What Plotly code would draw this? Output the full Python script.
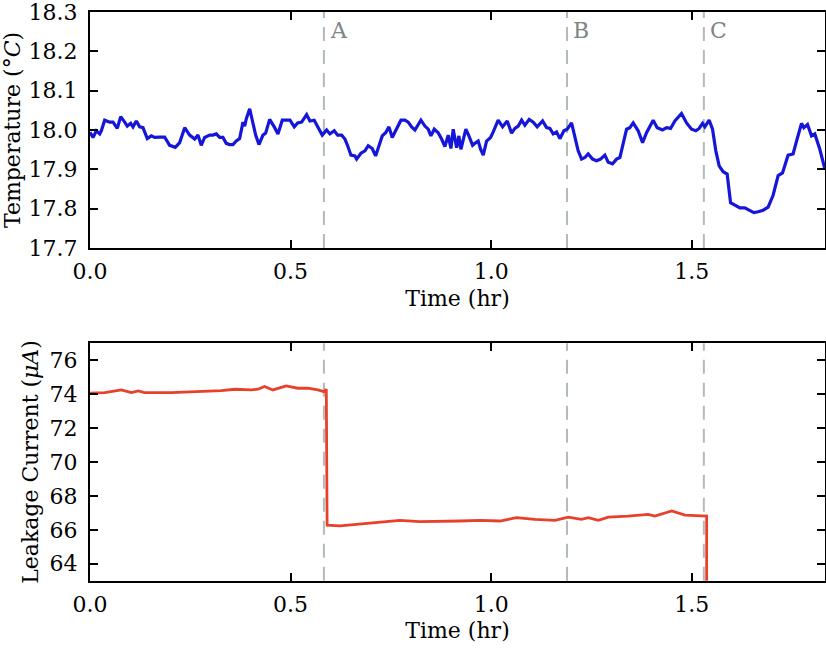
import plotly.graph_objects as go

# ---- data ----
temp_time = [0.000, 0.0075, 0.0157, 0.0242, 0.0282, 0.0366, 0.0491, 0.0573, 0.068, 0.0765,
             0.0865, 0.0929, 0.1014, 0.1072, 0.1154, 0.1238, 0.1321, 0.1428, 0.1528, 0.1612,
             0.1737, 0.1861, 0.1986, 0.2126, 0.2235, 0.236, 0.2484, 0.2609, 0.2691, 0.2773,
             0.2858, 0.2983, 0.3065, 0.3147, 0.3232, 0.3314, 0.3396, 0.3481, 0.3563, 0.3646,
             0.373, 0.3813, 0.3855, 0.3895, 0.398, 0.4062, 0.4129, 0.4211, 0.4311, 0.4378,
             0.4478, 0.4603, 0.4685, 0.4792, 0.4902, 0.4984, 0.5091, 0.5176, 0.5275, 0.54,
             0.5482, 0.5589, 0.5689, 0.5789, 0.5898, 0.598, 0.6088, 0.6172, 0.6272, 0.6354,
             0.6422, 0.6504, 0.6604, 0.6646, 0.6753, 0.6853, 0.6935, 0.7035, 0.7119, 0.7202,
             0.7284, 0.7369, 0.7451, 0.7533, 0.7643, 0.775, 0.785, 0.7932, 0.8016, 0.8099,
             0.8248, 0.8348, 0.843, 0.8497, 0.858, 0.8679, 0.8764, 0.8846, 0.8929, 0.8996,
             0.9053, 0.9138, 0.9195, 0.9245, 0.9327, 0.9369, 0.9452, 0.9536, 0.9619, 0.9676,
             0.9736, 0.9801, 0.9885, 0.9985, 1.005, 1.0174, 1.0284, 1.0399, 1.0508, 1.0591,
             1.0673, 1.0758, 1.084, 1.0947, 1.1047, 1.1146, 1.1281, 1.138, 1.1463, 1.1545,
             1.163, 1.1712, 1.1812, 1.1894, 1.2003, 1.2086, 1.2168, 1.2253, 1.2335, 1.2417,
             1.2527, 1.2627, 1.2726, 1.2833, 1.2916, 1.3025, 1.3125, 1.3207, 1.3289, 1.3374,
             1.3456, 1.3539, 1.3663, 1.3773, 1.3872, 1.3955, 1.4037, 1.4137, 1.4271, 1.4371,
             1.4471, 1.4578, 1.4744, 1.4869, 1.4994, 1.5101, 1.5183, 1.5268, 1.5325, 1.5432,
             1.5517, 1.5599, 1.5682, 1.5781, 1.5881, 1.5966, 1.6073, 1.6197, 1.6322, 1.6447,
             1.6546, 1.6653, 1.6778, 1.6902, 1.7027, 1.7152, 1.7261, 1.74, 1.7525, 1.7625,
             1.7735, 1.7792, 1.7884, 1.7984, 1.8066, 1.8191, 1.8316]
temp_values = [17.994, 17.981, 17.998, 17.990, 17.998, 18.025, 18.020, 18.020, 18.004, 18.034,
               18.020, 18.010, 18.017, 18.008, 18.023, 18.008, 18.006, 17.978, 17.985, 17.981,
               17.982, 17.982, 17.961, 17.956, 17.968, 18.006, 17.987, 17.977, 17.987, 17.961,
               17.981, 17.987, 17.987, 17.990, 17.981, 17.981, 17.966, 17.963, 17.963, 17.972,
               17.978, 18.020, 18.010, 18.028, 18.054, 18.017, 17.987, 17.963, 17.987, 17.992,
               18.027, 18.006, 17.990, 18.025, 18.025, 18.025, 18.008, 18.018, 18.020, 18.039,
               18.023, 18.025, 18.006, 17.987, 18.000, 17.990, 17.998, 17.987, 17.987, 17.977,
               17.960, 17.936, 17.934, 17.926, 17.941, 17.947, 17.960, 17.953, 17.934, 17.960,
               17.985, 17.993, 18.008, 17.981, 18.002, 18.025, 18.025, 18.020, 18.008, 18.000,
               18.025, 18.010, 18.002, 17.985, 18.002, 17.993, 17.977, 17.958, 17.987, 17.953,
               18.002, 17.955, 17.985, 17.951, 17.985, 18.002, 17.983, 17.961, 17.968, 17.972,
               17.951, 17.936, 17.972, 17.981, 17.995, 18.025, 18.008, 18.023, 17.992, 18.004,
               18.010, 18.025, 18.012, 18.027, 18.020, 18.008, 18.023, 18.006, 18.004, 17.990,
               17.995, 17.978, 17.998, 18.002, 18.018, 17.985, 17.947, 17.926, 17.930, 17.939,
               17.926, 17.922, 17.926, 17.936, 17.918, 17.914, 17.926, 17.930, 17.968, 18.002,
               18.006, 18.018, 17.998, 17.968, 17.993, 18.008, 18.025, 18.006, 18.000, 18.006,
               18.004, 18.023, 18.042, 18.018, 18.002, 17.998, 18.004, 18.017, 18.008, 18.025,
               18.002, 17.947, 17.909, 17.894, 17.888, 17.815, 17.808, 17.802, 17.802, 17.796,
               17.790, 17.792, 17.796, 17.804, 17.834, 17.884, 17.891, 17.936, 17.939, 17.977,
               18.017, 18.006, 18.014, 17.985, 17.990, 17.951, 17.901]

current_time = [0.000, 0.037, 0.078, 0.103, 0.120, 0.136, 0.203, 0.261, 0.327, 0.361,
                0.402, 0.419, 0.435, 0.456, 0.489, 0.518, 0.543, 0.568, 0.583, 0.589,
                0.591, 0.623, 0.673, 0.723, 0.772, 0.822, 0.872, 0.922, 0.972, 1.022,
                1.063, 1.109, 1.159, 1.192, 1.225, 1.242, 1.267, 1.292, 1.341, 1.391,
                1.408, 1.450, 1.483, 1.528, 1.537, 1.537]
current_values = [74.06, 74.09, 74.25, 74.09, 74.19, 74.09, 74.09, 74.15, 74.21, 74.29,
                  74.25, 74.29, 74.45, 74.25, 74.49, 74.35, 74.35, 74.25, 74.15, 74.29,
                  66.28, 66.23, 66.33, 66.42, 66.56, 66.48, 66.48, 66.52, 66.56, 66.52,
                  66.72, 66.62, 66.56, 66.75, 66.62, 66.72, 66.56, 66.75, 66.81, 66.91,
                  66.81, 67.11, 66.87, 66.81, 66.81, 62.0]

event_times = [0.583, 1.189, 1.530]
event_labels = ["A", "B", "C"]

x_range = [0, 1.832]
x_ticks = [0.0, 0.5, 1.0, 1.5]
temp_range = [17.6999, 18.3001]
temp_ticks = [17.7, 17.8, 17.9, 18.0, 18.1, 18.2, 18.3]
current_range = [63, 77]
current_ticks = [64, 66, 68, 70, 72, 74, 76]

# ---- figure ----
W, H = 826, 648
FONT = "DejaVu Serif"
FS = 22
BLUE = "#1616d8"
RED = "#e8402a"
DASH = "#b3baba"
LABEL_GRAY = "#7d8585"

fig = go.Figure()
fig.add_trace(go.Scatter(x=temp_time, y=temp_values, mode="lines",
                         line=dict(color=BLUE, width=3.2), xaxis="x", yaxis="y",
                         showlegend=False))
fig.add_trace(go.Scatter(x=current_time, y=current_values, mode="lines",
                         line=dict(color=RED, width=2.8), xaxis="x2", yaxis="y2",
                         showlegend=False))

shapes = []
annotations = []
for t, lab in zip(event_times, event_labels):
    for xr, yr in (("x", "y domain"), ("x2", "y2 domain")):
        shapes.append(dict(type="line", xref=xr, yref=yr, x0=t, x1=t, y0=0, y1=1,
                           line=dict(color=DASH, width=2, dash="14px,9px"), layer="below"))
    annotations.append(dict(x=t, y=1 - 19 / (248 - 12), xref="x", yref="y domain",
                            text=lab, showarrow=False, xanchor="left", yanchor="middle",
                            xshift=4, font=dict(family=FONT, size=FS, color=LABEL_GRAY)))

axis_common = dict(showline=True, linecolor="black", linewidth=2, mirror="ticks",
                   ticks="inside", ticklen=8, tickwidth=1.5, tickcolor="black",
                   showgrid=False, zeroline=False, automargin=False,
                   ticklabeloverflow="allow",
                   tickfont=dict(family=FONT, size=FS, color="black"))

xd = [90 / W, 825 / W]
top_dom = [1 - 248 / H, 1 - 12 / H]
bot_dom = [1 - 580.7 / H, 1 - 343.3 / H]

fig.update_layout(
    width=W, height=H,
    margin=dict(l=0, r=0, t=0, b=0, autoexpand=False),
    paper_bgcolor="white", plot_bgcolor="white",
    font=dict(family=FONT, size=FS, color="black"),
    xaxis=dict(domain=xd, anchor="y", range=x_range, tickvals=x_ticks, tickformat=".1f",
               ticklabelstandoff=3,
               title=dict(text="Time (hr)", standoff=7, font=dict(family=FONT, size=FS)),
               **axis_common),
    yaxis=dict(domain=top_dom, anchor="x", range=temp_range, tickvals=temp_ticks,
               tickformat=".1f", ticklabelstandoff=6,
               title=dict(text="Temperature (°<i>C</i>)", standoff=4,
                          font=dict(family=FONT, size=FS)),
               **axis_common),
    xaxis2=dict(domain=xd, anchor="y2", range=x_range, tickvals=x_ticks, tickformat=".1f",
                ticklabelstandoff=3,
                title=dict(text="Time (hr)", standoff=7, font=dict(family=FONT, size=FS)),
                **axis_common),
    yaxis2=dict(domain=bot_dom, anchor="x2", range=current_range, tickvals=current_ticks,
                ticklabelstandoff=6,
                title=dict(text="Leakage Current (<i>μA</i>)", standoff=5,
                           font=dict(family=FONT, size=FS)),
                **axis_common),
    shapes=shapes,
    annotations=annotations,
)

# remove the browser's default 8px body margin so the figure sits at the page origin
fig.write_html("out.html", config={"displayModeBar": False},
               post_script="document.body.style.margin='0';")
